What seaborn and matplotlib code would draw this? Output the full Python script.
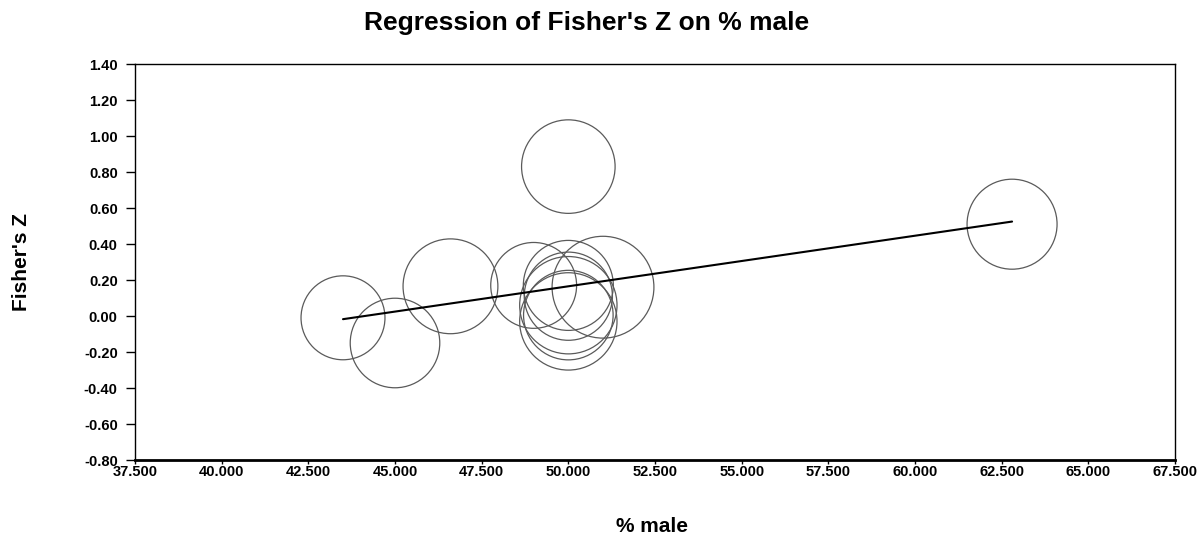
import numpy as np
import pandas as pd
import matplotlib
matplotlib.use("Agg")
import matplotlib.pyplot as plt
import seaborn as sns

# ---- data ----
pct_male = [43.5, 45.0, 46.6, 49.0, 50.0, 50.0, 50.0, 50.0, 50.0, 50.0, 51.0, 62.8]
fisher_z = [-0.01, -0.15, 0.165, 0.17, 0.83, 0.17, 0.11, 0.06, 0.005, -0.03, 0.16, 0.51]
weight = [87, 99, 111, 91, 108, 100, 96, 117, 99, 117, 128, 100]
reg_intercept = -1.240
reg_slope = 0.0281

x_ticks = [37.5, 40.0, 42.5, 45.0, 47.5, 50.0, 52.5, 55.0, 57.5, 60.0, 62.5, 65.0, 67.5]
y_ticks = [1.40, 1.20, 1.00, 0.80, 0.60, 0.40, 0.20, 0.00, -0.20, -0.40, -0.60, -0.80]

df = pd.DataFrame({"pct_male": pct_male, "fisher_z": fisher_z, "weight": weight})

sns.set_theme(style="white")
plt.rcParams["font.family"] = ["Liberation Sans", "DejaVu Sans"]
plt.rcParams["font.weight"] = "bold"
plt.rcParams["text.color"] = "black"

W, H = 1203, 544
fig = plt.figure(figsize=(W / 100, H / 100), dpi=100)
ax = fig.add_axes([135 / W, 1 - 460 / H, (1175 - 135) / W, (460 - 64) / H])

# marker area scaled from weight
sizes = np.array(weight) * 41.99
sns.scatterplot(data=df, x="pct_male", y="fisher_z", s=sizes, facecolor="none",
                edgecolor="#5a5a5a", linewidth=0.9, ax=ax, legend=False, zorder=2)

# regression line over the data range
line_x = np.array([min(pct_male), max(pct_male)])
line_df = pd.DataFrame({"x": line_x, "y": reg_intercept + reg_slope * line_x})
sns.lineplot(data=line_df, x="x", y="y", color="black", linewidth=1.5, ax=ax, zorder=3)

ax.set_xlim(37.5, 67.5)
ax.set_ylim(-0.80, 1.40)
ax.set_xticks(x_ticks)
ax.set_xticklabels([f"{v:.3f}" for v in x_ticks])
ax.set_yticks(y_ticks)
ax.set_yticklabels([f"{v:.2f}" for v in y_ticks])
ax.tick_params(axis="both", which="both", direction="out", colors="black",
               labelcolor="black", labelsize=10.5)
ax.tick_params(axis="y", length=6.5, width=1, pad=6, left=True)
ax.tick_params(axis="x", length=3, width=1, pad=0.5, bottom=True)
for lab in ax.get_xticklabels() + ax.get_yticklabels():
    lab.set_fontweight("bold")
for sp in ax.spines.values():
    sp.set_color("black")
    sp.set_linewidth(1.0)
ax.spines["bottom"].set_linewidth(2.0)
ax.set_xlabel("")
ax.set_ylabel("")

fig.text(587 / W, 1 - 23 / H, "Regression of Fisher's Z on % male",
         ha="center", va="center", fontsize=19, fontweight="bold", color="black")
fig.text(652 / W, 1 - 527 / H, "% male", ha="center", va="center",
         fontsize=15, fontweight="bold", color="black")
fig.text(22 / W, 1 - 262 / H, "Fisher's Z", ha="center", va="center",
         rotation=90, fontsize=15, fontweight="bold", color="black")

fig.savefig("out.png", dpi=100)
